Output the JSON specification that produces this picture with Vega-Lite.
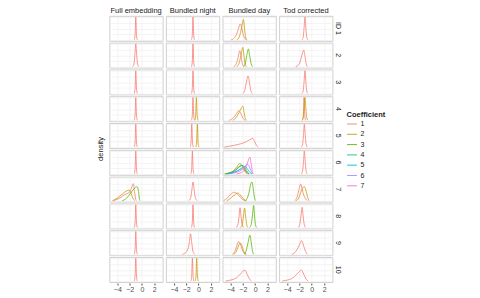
{
"$schema":"https://vega.github.io/schema/vega-lite/v6.json",
"padding":{"left":95.5,"top":6,"right":0,"bottom":0},
"background":"white",
"bounds":"flush",
"data":{"values":[
{"m":"Full embedding","id":1,"c":"1","x":-1.25,"y":0},{"m":"Full embedding","id":1,"c":"1","x":-1.12,"y":0.2},{"m":"Full embedding","id":1,"c":"1","x":-1.0,"y":1},{"m":"Full embedding","id":1,"c":"1","x":-0.88,"y":0.2},{"m":"Full embedding","id":1,"c":"1","x":-0.75,"y":0},
{"m":"Bundled night","id":1,"c":"1","x":-1.15,"y":0},{"m":"Bundled night","id":1,"c":"1","x":-1.02,"y":0.2},{"m":"Bundled night","id":1,"c":"1","x":-0.9,"y":1},{"m":"Bundled night","id":1,"c":"1","x":-0.78,"y":0.2},{"m":"Bundled night","id":1,"c":"1","x":-0.65,"y":0},
{"m":"Bundled day","id":1,"c":"1","x":-3.9,"y":0},{"m":"Bundled day","id":1,"c":"1","x":-3.4,"y":0.08},{"m":"Bundled day","id":1,"c":"1","x":-3.0,"y":0.25},{"m":"Bundled day","id":1,"c":"1","x":-2.7,"y":0.5},{"m":"Bundled day","id":1,"c":"1","x":-2.4,"y":0.7},{"m":"Bundled day","id":1,"c":"1","x":-2.15,"y":0.5},{"m":"Bundled day","id":1,"c":"1","x":-1.9,"y":0.2},{"m":"Bundled day","id":1,"c":"1","x":-1.6,"y":0.03},{"m":"Bundled day","id":1,"c":"1","x":-1.4,"y":0},
{"m":"Bundled day","id":1,"c":"2","x":-3.0,"y":0},{"m":"Bundled day","id":1,"c":"2","x":-2.6,"y":0.12},{"m":"Bundled day","id":1,"c":"2","x":-2.3,"y":0.4},{"m":"Bundled day","id":1,"c":"2","x":-2.05,"y":0.75},{"m":"Bundled day","id":1,"c":"2","x":-1.9,"y":0.9},{"m":"Bundled day","id":1,"c":"2","x":-1.75,"y":0.6},{"m":"Bundled day","id":1,"c":"2","x":-1.6,"y":0.2},{"m":"Bundled day","id":1,"c":"2","x":-1.45,"y":0.03},{"m":"Bundled day","id":1,"c":"2","x":-1.3,"y":0},
{"m":"Tod corrected","id":1,"c":"1","x":-1.6,"y":0},{"m":"Tod corrected","id":1,"c":"1","x":-1.4,"y":0.1},{"m":"Tod corrected","id":1,"c":"1","x":-1.25,"y":0.5},{"m":"Tod corrected","id":1,"c":"1","x":-1.1,"y":1},{"m":"Tod corrected","id":1,"c":"1","x":-0.95,"y":0.5},{"m":"Tod corrected","id":1,"c":"1","x":-0.8,"y":0.1},{"m":"Tod corrected","id":1,"c":"1","x":-0.6,"y":0},

{"m":"Full embedding","id":2,"c":"1","x":-1.5,"y":0},{"m":"Full embedding","id":2,"c":"1","x":-1.3,"y":0.1},{"m":"Full embedding","id":2,"c":"1","x":-1.15,"y":0.5},{"m":"Full embedding","id":2,"c":"1","x":-1.0,"y":1},{"m":"Full embedding","id":2,"c":"1","x":-0.85,"y":0.5},{"m":"Full embedding","id":2,"c":"1","x":-0.7,"y":0.1},{"m":"Full embedding","id":2,"c":"1","x":-0.5,"y":0},
{"m":"Bundled night","id":2,"c":"1","x":-1.15,"y":0},{"m":"Bundled night","id":2,"c":"1","x":-1.02,"y":0.2},{"m":"Bundled night","id":2,"c":"1","x":-0.9,"y":1},{"m":"Bundled night","id":2,"c":"1","x":-0.78,"y":0.2},{"m":"Bundled night","id":2,"c":"1","x":-0.65,"y":0},
{"m":"Bundled day","id":2,"c":"1","x":-3.5,"y":0},{"m":"Bundled day","id":2,"c":"1","x":-3.1,"y":0.1},{"m":"Bundled day","id":2,"c":"1","x":-2.8,"y":0.35},{"m":"Bundled day","id":2,"c":"1","x":-2.5,"y":0.7},{"m":"Bundled day","id":2,"c":"1","x":-2.3,"y":0.5},{"m":"Bundled day","id":2,"c":"1","x":-2.1,"y":0.15},{"m":"Bundled day","id":2,"c":"1","x":-1.8,"y":0},
{"m":"Bundled day","id":2,"c":"2","x":-3.0,"y":0},{"m":"Bundled day","id":2,"c":"2","x":-2.6,"y":0.15},{"m":"Bundled day","id":2,"c":"2","x":-2.3,"y":0.5},{"m":"Bundled day","id":2,"c":"2","x":-2.0,"y":0.85},{"m":"Bundled day","id":2,"c":"2","x":-1.8,"y":0.45},{"m":"Bundled day","id":2,"c":"2","x":-1.6,"y":0.1},{"m":"Bundled day","id":2,"c":"2","x":-1.4,"y":0},
{"m":"Bundled day","id":2,"c":"3","x":-1.9,"y":0},{"m":"Bundled day","id":2,"c":"3","x":-1.6,"y":0.15},{"m":"Bundled day","id":2,"c":"3","x":-1.35,"y":0.5},{"m":"Bundled day","id":2,"c":"3","x":-1.1,"y":0.78},{"m":"Bundled day","id":2,"c":"3","x":-0.9,"y":0.5},{"m":"Bundled day","id":2,"c":"3","x":-0.65,"y":0.12},{"m":"Bundled day","id":2,"c":"3","x":-0.4,"y":0},
{"m":"Tod corrected","id":2,"c":"1","x":-2.6,"y":0},{"m":"Tod corrected","id":2,"c":"1","x":-2.2,"y":0.06},{"m":"Tod corrected","id":2,"c":"1","x":-1.9,"y":0.2},{"m":"Tod corrected","id":2,"c":"1","x":-1.6,"y":0.5},{"m":"Tod corrected","id":2,"c":"1","x":-1.3,"y":0.73},{"m":"Tod corrected","id":2,"c":"1","x":-1.1,"y":0.45},{"m":"Tod corrected","id":2,"c":"1","x":-0.9,"y":0.12},{"m":"Tod corrected","id":2,"c":"1","x":-0.7,"y":0},

{"m":"Full embedding","id":3,"c":"1","x":-1.25,"y":0},{"m":"Full embedding","id":3,"c":"1","x":-1.12,"y":0.2},{"m":"Full embedding","id":3,"c":"1","x":-1.0,"y":1},{"m":"Full embedding","id":3,"c":"1","x":-0.88,"y":0.2},{"m":"Full embedding","id":3,"c":"1","x":-0.75,"y":0},
{"m":"Bundled night","id":3,"c":"1","x":-1.15,"y":0},{"m":"Bundled night","id":3,"c":"1","x":-1.02,"y":0.2},{"m":"Bundled night","id":3,"c":"1","x":-0.9,"y":1},{"m":"Bundled night","id":3,"c":"1","x":-0.78,"y":0.2},{"m":"Bundled night","id":3,"c":"1","x":-0.65,"y":0},
{"m":"Bundled day","id":3,"c":"1","x":-2.0,"y":0},{"m":"Bundled day","id":3,"c":"1","x":-1.7,"y":0.12},{"m":"Bundled day","id":3,"c":"1","x":-1.45,"y":0.45},{"m":"Bundled day","id":3,"c":"1","x":-1.15,"y":0.77},{"m":"Bundled day","id":3,"c":"1","x":-0.9,"y":0.45},{"m":"Bundled day","id":3,"c":"1","x":-0.7,"y":0.12},{"m":"Bundled day","id":3,"c":"1","x":-0.45,"y":0},
{"m":"Tod corrected","id":3,"c":"1","x":-1.6,"y":0},{"m":"Tod corrected","id":3,"c":"1","x":-1.4,"y":0.1},{"m":"Tod corrected","id":3,"c":"1","x":-1.25,"y":0.5},{"m":"Tod corrected","id":3,"c":"1","x":-1.1,"y":1},{"m":"Tod corrected","id":3,"c":"1","x":-0.95,"y":0.5},{"m":"Tod corrected","id":3,"c":"1","x":-0.8,"y":0.1},{"m":"Tod corrected","id":3,"c":"1","x":-0.6,"y":0},

{"m":"Full embedding","id":4,"c":"1","x":-1.25,"y":0},{"m":"Full embedding","id":4,"c":"1","x":-1.12,"y":0.2},{"m":"Full embedding","id":4,"c":"1","x":-1.0,"y":1},{"m":"Full embedding","id":4,"c":"1","x":-0.88,"y":0.2},{"m":"Full embedding","id":4,"c":"1","x":-0.75,"y":0},
{"m":"Bundled night","id":4,"c":"1","x":-1.15,"y":0},{"m":"Bundled night","id":4,"c":"1","x":-1.02,"y":0.2},{"m":"Bundled night","id":4,"c":"1","x":-0.9,"y":1},{"m":"Bundled night","id":4,"c":"1","x":-0.78,"y":0.2},{"m":"Bundled night","id":4,"c":"1","x":-0.65,"y":0},
{"m":"Bundled night","id":4,"c":"2","x":-0.6,"y":0},{"m":"Bundled night","id":4,"c":"2","x":-0.47,"y":0.2},{"m":"Bundled night","id":4,"c":"2","x":-0.35,"y":1},{"m":"Bundled night","id":4,"c":"2","x":-0.23,"y":0.2},{"m":"Bundled night","id":4,"c":"2","x":-0.1,"y":0},
{"m":"Bundled day","id":4,"c":"1","x":-4.2,"y":0},{"m":"Bundled day","id":4,"c":"1","x":-3.8,"y":0.05},{"m":"Bundled day","id":4,"c":"1","x":-3.4,"y":0.15},{"m":"Bundled day","id":4,"c":"1","x":-3.0,"y":0.3},{"m":"Bundled day","id":4,"c":"1","x":-2.7,"y":0.42},{"m":"Bundled day","id":4,"c":"1","x":-2.4,"y":0.35},{"m":"Bundled day","id":4,"c":"1","x":-2.1,"y":0.15},{"m":"Bundled day","id":4,"c":"1","x":-1.8,"y":0.03},{"m":"Bundled day","id":4,"c":"1","x":-1.6,"y":0},
{"m":"Bundled day","id":4,"c":"2","x":-3.6,"y":0},{"m":"Bundled day","id":4,"c":"2","x":-3.2,"y":0.08},{"m":"Bundled day","id":4,"c":"2","x":-2.8,"y":0.25},{"m":"Bundled day","id":4,"c":"2","x":-2.4,"y":0.45},{"m":"Bundled day","id":4,"c":"2","x":-2.0,"y":0.62},{"m":"Bundled day","id":4,"c":"2","x":-1.8,"y":0.35},{"m":"Bundled day","id":4,"c":"2","x":-1.6,"y":0.08},{"m":"Bundled day","id":4,"c":"2","x":-1.4,"y":0},
{"m":"Tod corrected","id":4,"c":"1","x":-1.5,"y":0},{"m":"Tod corrected","id":4,"c":"1","x":-1.37,"y":0.2},{"m":"Tod corrected","id":4,"c":"1","x":-1.25,"y":1},{"m":"Tod corrected","id":4,"c":"1","x":-1.13,"y":0.2},{"m":"Tod corrected","id":4,"c":"1","x":-1.0,"y":0},
{"m":"Tod corrected","id":4,"c":"2","x":-1.6,"y":0},{"m":"Tod corrected","id":4,"c":"2","x":-1.4,"y":0.1},{"m":"Tod corrected","id":4,"c":"2","x":-1.25,"y":0.5},{"m":"Tod corrected","id":4,"c":"2","x":-1.1,"y":1},{"m":"Tod corrected","id":4,"c":"2","x":-0.95,"y":0.5},{"m":"Tod corrected","id":4,"c":"2","x":-0.8,"y":0.1},{"m":"Tod corrected","id":4,"c":"2","x":-0.6,"y":0},

{"m":"Full embedding","id":5,"c":"1","x":-1.25,"y":0},{"m":"Full embedding","id":5,"c":"1","x":-1.12,"y":0.2},{"m":"Full embedding","id":5,"c":"1","x":-1.0,"y":1},{"m":"Full embedding","id":5,"c":"1","x":-0.88,"y":0.2},{"m":"Full embedding","id":5,"c":"1","x":-0.75,"y":0},
{"m":"Bundled night","id":5,"c":"1","x":-1.35,"y":0},{"m":"Bundled night","id":5,"c":"1","x":-1.22,"y":0.2},{"m":"Bundled night","id":5,"c":"1","x":-1.1,"y":1},{"m":"Bundled night","id":5,"c":"1","x":-0.98,"y":0.2},{"m":"Bundled night","id":5,"c":"1","x":-0.85,"y":0},
{"m":"Bundled night","id":5,"c":"2","x":-0.45,"y":0},{"m":"Bundled night","id":5,"c":"2","x":-0.32,"y":0.2},{"m":"Bundled night","id":5,"c":"2","x":-0.2,"y":1},{"m":"Bundled night","id":5,"c":"2","x":-0.08,"y":0.2},{"m":"Bundled night","id":5,"c":"2","x":0.05,"y":0},
{"m":"Bundled day","id":5,"c":"1","x":-5.0,"y":0},{"m":"Bundled day","id":5,"c":"1","x":-4.3,"y":0.03},{"m":"Bundled day","id":5,"c":"1","x":-3.5,"y":0.07},{"m":"Bundled day","id":5,"c":"1","x":-2.7,"y":0.12},{"m":"Bundled day","id":5,"c":"1","x":-2.0,"y":0.17},{"m":"Bundled day","id":5,"c":"1","x":-1.4,"y":0.24},{"m":"Bundled day","id":5,"c":"1","x":-0.9,"y":0.32},{"m":"Bundled day","id":5,"c":"1","x":-0.4,"y":0.38},{"m":"Bundled day","id":5,"c":"1","x":-0.1,"y":0.25},{"m":"Bundled day","id":5,"c":"1","x":0.2,"y":0.08},{"m":"Bundled day","id":5,"c":"1","x":0.5,"y":0},
{"m":"Tod corrected","id":5,"c":"1","x":-1.7,"y":0},{"m":"Tod corrected","id":5,"c":"1","x":-1.5,"y":0.1},{"m":"Tod corrected","id":5,"c":"1","x":-1.35,"y":0.5},{"m":"Tod corrected","id":5,"c":"1","x":-1.2,"y":1},{"m":"Tod corrected","id":5,"c":"1","x":-1.05,"y":0.5},{"m":"Tod corrected","id":5,"c":"1","x":-0.9,"y":0.1},{"m":"Tod corrected","id":5,"c":"1","x":-0.7,"y":0},

{"m":"Full embedding","id":6,"c":"1","x":-1.25,"y":0},{"m":"Full embedding","id":6,"c":"1","x":-1.12,"y":0.2},{"m":"Full embedding","id":6,"c":"1","x":-1.0,"y":1},{"m":"Full embedding","id":6,"c":"1","x":-0.88,"y":0.2},{"m":"Full embedding","id":6,"c":"1","x":-0.75,"y":0},
{"m":"Bundled night","id":6,"c":"1","x":-1.25,"y":0},{"m":"Bundled night","id":6,"c":"1","x":-1.12,"y":0.2},{"m":"Bundled night","id":6,"c":"1","x":-1.0,"y":1},{"m":"Bundled night","id":6,"c":"1","x":-0.88,"y":0.2},{"m":"Bundled night","id":6,"c":"1","x":-0.75,"y":0},
{"m":"Bundled day","id":6,"c":"1","x":-4.5,"y":0},{"m":"Bundled day","id":6,"c":"1","x":-3.8,"y":0.04},{"m":"Bundled day","id":6,"c":"1","x":-3.2,"y":0.1},{"m":"Bundled day","id":6,"c":"1","x":-2.6,"y":0.18},{"m":"Bundled day","id":6,"c":"1","x":-2.1,"y":0.22},{"m":"Bundled day","id":6,"c":"1","x":-1.7,"y":0.15},{"m":"Bundled day","id":6,"c":"1","x":-1.3,"y":0.05},{"m":"Bundled day","id":6,"c":"1","x":-1.0,"y":0},
{"m":"Bundled day","id":6,"c":"2","x":-5.0,"y":0},{"m":"Bundled day","id":6,"c":"2","x":-4.3,"y":0.04},{"m":"Bundled day","id":6,"c":"2","x":-3.6,"y":0.12},{"m":"Bundled day","id":6,"c":"2","x":-3.0,"y":0.3},{"m":"Bundled day","id":6,"c":"2","x":-2.5,"y":0.45},{"m":"Bundled day","id":6,"c":"2","x":-2.1,"y":0.35},{"m":"Bundled day","id":6,"c":"2","x":-1.7,"y":0.12},{"m":"Bundled day","id":6,"c":"2","x":-1.3,"y":0},
{"m":"Bundled day","id":6,"c":"3","x":-4.8,"y":0},{"m":"Bundled day","id":6,"c":"3","x":-4.0,"y":0.05},{"m":"Bundled day","id":6,"c":"3","x":-3.3,"y":0.15},{"m":"Bundled day","id":6,"c":"3","x":-2.7,"y":0.3},{"m":"Bundled day","id":6,"c":"3","x":-2.2,"y":0.38},{"m":"Bundled day","id":6,"c":"3","x":-1.8,"y":0.28},{"m":"Bundled day","id":6,"c":"3","x":-1.4,"y":0.08},{"m":"Bundled day","id":6,"c":"3","x":-1.0,"y":0},
{"m":"Bundled day","id":6,"c":"4","x":-4.8,"y":0},{"m":"Bundled day","id":6,"c":"4","x":-4.0,"y":0.05},{"m":"Bundled day","id":6,"c":"4","x":-3.2,"y":0.15},{"m":"Bundled day","id":6,"c":"4","x":-2.6,"y":0.3},{"m":"Bundled day","id":6,"c":"4","x":-2.0,"y":0.37},{"m":"Bundled day","id":6,"c":"4","x":-1.6,"y":0.25},{"m":"Bundled day","id":6,"c":"4","x":-1.2,"y":0.06},{"m":"Bundled day","id":6,"c":"4","x":-0.9,"y":0},
{"m":"Bundled day","id":6,"c":"5","x":-4.5,"y":0},{"m":"Bundled day","id":6,"c":"5","x":-3.6,"y":0.05},{"m":"Bundled day","id":6,"c":"5","x":-2.8,"y":0.13},{"m":"Bundled day","id":6,"c":"5","x":-2.2,"y":0.25},{"m":"Bundled day","id":6,"c":"5","x":-1.6,"y":0.32},{"m":"Bundled day","id":6,"c":"5","x":-1.2,"y":0.2},{"m":"Bundled day","id":6,"c":"5","x":-0.8,"y":0.05},{"m":"Bundled day","id":6,"c":"5","x":-0.5,"y":0},
{"m":"Bundled day","id":6,"c":"6","x":-4.0,"y":0},{"m":"Bundled day","id":6,"c":"6","x":-3.2,"y":0.05},{"m":"Bundled day","id":6,"c":"6","x":-2.5,"y":0.12},{"m":"Bundled day","id":6,"c":"6","x":-1.9,"y":0.25},{"m":"Bundled day","id":6,"c":"6","x":-1.3,"y":0.42},{"m":"Bundled day","id":6,"c":"6","x":-0.9,"y":0.3},{"m":"Bundled day","id":6,"c":"6","x":-0.6,"y":0.08},{"m":"Bundled day","id":6,"c":"6","x":-0.4,"y":0},
{"m":"Bundled day","id":6,"c":"7","x":-3.0,"y":0},{"m":"Bundled day","id":6,"c":"7","x":-2.3,"y":0.05},{"m":"Bundled day","id":6,"c":"7","x":-1.8,"y":0.15},{"m":"Bundled day","id":6,"c":"7","x":-1.4,"y":0.35},{"m":"Bundled day","id":6,"c":"7","x":-1.1,"y":0.6},{"m":"Bundled day","id":6,"c":"7","x":-0.85,"y":0.73},{"m":"Bundled day","id":6,"c":"7","x":-0.65,"y":0.45},{"m":"Bundled day","id":6,"c":"7","x":-0.45,"y":0.1},{"m":"Bundled day","id":6,"c":"7","x":-0.3,"y":0},
{"m":"Tod corrected","id":6,"c":"1","x":-1.7,"y":0},{"m":"Tod corrected","id":6,"c":"1","x":-1.5,"y":0.1},{"m":"Tod corrected","id":6,"c":"1","x":-1.35,"y":0.5},{"m":"Tod corrected","id":6,"c":"1","x":-1.2,"y":1},{"m":"Tod corrected","id":6,"c":"1","x":-1.05,"y":0.5},{"m":"Tod corrected","id":6,"c":"1","x":-0.9,"y":0.1},{"m":"Tod corrected","id":6,"c":"1","x":-0.7,"y":0},

{"m":"Full embedding","id":7,"c":"1","x":-4.6,"y":0},{"m":"Full embedding","id":7,"c":"1","x":-4.0,"y":0.06},{"m":"Full embedding","id":7,"c":"1","x":-3.4,"y":0.15},{"m":"Full embedding","id":7,"c":"1","x":-2.9,"y":0.25},{"m":"Full embedding","id":7,"c":"1","x":-2.5,"y":0.3},{"m":"Full embedding","id":7,"c":"1","x":-2.1,"y":0.35},{"m":"Full embedding","id":7,"c":"1","x":-1.7,"y":0.55},{"m":"Full embedding","id":7,"c":"1","x":-1.4,"y":0.75},{"m":"Full embedding","id":7,"c":"1","x":-1.2,"y":0.4},{"m":"Full embedding","id":7,"c":"1","x":-1.0,"y":0.05},{"m":"Full embedding","id":7,"c":"1","x":-0.9,"y":0},
{"m":"Full embedding","id":7,"c":"2","x":-4.8,"y":0},{"m":"Full embedding","id":7,"c":"2","x":-4.2,"y":0.08},{"m":"Full embedding","id":7,"c":"2","x":-3.6,"y":0.2},{"m":"Full embedding","id":7,"c":"2","x":-3.0,"y":0.33},{"m":"Full embedding","id":7,"c":"2","x":-2.5,"y":0.43},{"m":"Full embedding","id":7,"c":"2","x":-2.1,"y":0.46},{"m":"Full embedding","id":7,"c":"2","x":-1.8,"y":0.35},{"m":"Full embedding","id":7,"c":"2","x":-1.5,"y":0.12},{"m":"Full embedding","id":7,"c":"2","x":-1.2,"y":0},
{"m":"Full embedding","id":7,"c":"3","x":-3.2,"y":0},{"m":"Full embedding","id":7,"c":"3","x":-2.7,"y":0.06},{"m":"Full embedding","id":7,"c":"3","x":-2.2,"y":0.2},{"m":"Full embedding","id":7,"c":"3","x":-1.7,"y":0.38},{"m":"Full embedding","id":7,"c":"3","x":-1.2,"y":0.55},{"m":"Full embedding","id":7,"c":"3","x":-0.8,"y":0.62},{"m":"Full embedding","id":7,"c":"3","x":-0.55,"y":0.4},{"m":"Full embedding","id":7,"c":"3","x":-0.4,"y":0.05},{"m":"Full embedding","id":7,"c":"3","x":-0.3,"y":0},
{"m":"Bundled night","id":7,"c":"1","x":-1.6,"y":0},{"m":"Bundled night","id":7,"c":"1","x":-1.3,"y":0.1},{"m":"Bundled night","id":7,"c":"1","x":-1.1,"y":0.45},{"m":"Bundled night","id":7,"c":"1","x":-0.9,"y":0.82},{"m":"Bundled night","id":7,"c":"1","x":-0.7,"y":0.45},{"m":"Bundled night","id":7,"c":"1","x":-0.5,"y":0.1},{"m":"Bundled night","id":7,"c":"1","x":-0.2,"y":0},
{"m":"Bundled day","id":7,"c":"1","x":-5.1,"y":0},{"m":"Bundled day","id":7,"c":"1","x":-4.6,"y":0.1},{"m":"Bundled day","id":7,"c":"1","x":-4.0,"y":0.27},{"m":"Bundled day","id":7,"c":"1","x":-3.4,"y":0.37},{"m":"Bundled day","id":7,"c":"1","x":-2.9,"y":0.3},{"m":"Bundled day","id":7,"c":"1","x":-2.4,"y":0.15},{"m":"Bundled day","id":7,"c":"1","x":-2.0,"y":0.05},{"m":"Bundled day","id":7,"c":"1","x":-1.6,"y":0},
{"m":"Bundled day","id":7,"c":"2","x":-4.6,"y":0},{"m":"Bundled day","id":7,"c":"2","x":-4.1,"y":0.08},{"m":"Bundled day","id":7,"c":"2","x":-3.6,"y":0.2},{"m":"Bundled day","id":7,"c":"2","x":-3.1,"y":0.3},{"m":"Bundled day","id":7,"c":"2","x":-2.8,"y":0.34},{"m":"Bundled day","id":7,"c":"2","x":-2.4,"y":0.25},{"m":"Bundled day","id":7,"c":"2","x":-2.0,"y":0.1},{"m":"Bundled day","id":7,"c":"2","x":-1.6,"y":0.02},{"m":"Bundled day","id":7,"c":"2","x":-1.4,"y":0},
{"m":"Bundled day","id":7,"c":"3","x":-1.6,"y":0},{"m":"Bundled day","id":7,"c":"3","x":-1.3,"y":0.1},{"m":"Bundled day","id":7,"c":"3","x":-1.0,"y":0.35},{"m":"Bundled day","id":7,"c":"3","x":-0.75,"y":0.7},{"m":"Bundled day","id":7,"c":"3","x":-0.5,"y":0.82},{"m":"Bundled day","id":7,"c":"3","x":-0.3,"y":0.5},{"m":"Bundled day","id":7,"c":"3","x":-0.1,"y":0.12},{"m":"Bundled day","id":7,"c":"3","x":0.1,"y":0},
{"m":"Tod corrected","id":7,"c":"1","x":-2.7,"y":0},{"m":"Tod corrected","id":7,"c":"1","x":-2.4,"y":0.15},{"m":"Tod corrected","id":7,"c":"1","x":-2.1,"y":0.45},{"m":"Tod corrected","id":7,"c":"1","x":-1.8,"y":0.73},{"m":"Tod corrected","id":7,"c":"1","x":-1.55,"y":0.5},{"m":"Tod corrected","id":7,"c":"1","x":-1.3,"y":0.25},{"m":"Tod corrected","id":7,"c":"1","x":-1.0,"y":0.08},{"m":"Tod corrected","id":7,"c":"1","x":-0.7,"y":0},
{"m":"Tod corrected","id":7,"c":"2","x":-2.5,"y":0},{"m":"Tod corrected","id":7,"c":"2","x":-2.1,"y":0.12},{"m":"Tod corrected","id":7,"c":"2","x":-1.8,"y":0.35},{"m":"Tod corrected","id":7,"c":"2","x":-1.5,"y":0.55},{"m":"Tod corrected","id":7,"c":"2","x":-1.2,"y":0.62},{"m":"Tod corrected","id":7,"c":"2","x":-0.9,"y":0.4},{"m":"Tod corrected","id":7,"c":"2","x":-0.6,"y":0.1},{"m":"Tod corrected","id":7,"c":"2","x":-0.4,"y":0},

{"m":"Full embedding","id":8,"c":"1","x":-1.25,"y":0},{"m":"Full embedding","id":8,"c":"1","x":-1.12,"y":0.2},{"m":"Full embedding","id":8,"c":"1","x":-1.0,"y":1},{"m":"Full embedding","id":8,"c":"1","x":-0.88,"y":0.2},{"m":"Full embedding","id":8,"c":"1","x":-0.75,"y":0},
{"m":"Bundled night","id":8,"c":"1","x":-1.15,"y":0},{"m":"Bundled night","id":8,"c":"1","x":-1.02,"y":0.2},{"m":"Bundled night","id":8,"c":"1","x":-0.9,"y":1},{"m":"Bundled night","id":8,"c":"1","x":-0.78,"y":0.2},{"m":"Bundled night","id":8,"c":"1","x":-0.65,"y":0},
{"m":"Bundled day","id":8,"c":"1","x":-3.1,"y":0},{"m":"Bundled day","id":8,"c":"1","x":-2.8,"y":0.12},{"m":"Bundled day","id":8,"c":"1","x":-2.6,"y":0.5},{"m":"Bundled day","id":8,"c":"1","x":-2.45,"y":0.87},{"m":"Bundled day","id":8,"c":"1","x":-2.3,"y":0.5},{"m":"Bundled day","id":8,"c":"1","x":-2.1,"y":0.12},{"m":"Bundled day","id":8,"c":"1","x":-1.9,"y":0},
{"m":"Bundled day","id":8,"c":"2","x":-2.4,"y":0},{"m":"Bundled day","id":8,"c":"2","x":-2.1,"y":0.12},{"m":"Bundled day","id":8,"c":"2","x":-1.9,"y":0.5},{"m":"Bundled day","id":8,"c":"2","x":-1.7,"y":0.85},{"m":"Bundled day","id":8,"c":"2","x":-1.55,"y":0.5},{"m":"Bundled day","id":8,"c":"2","x":-1.35,"y":0.1},{"m":"Bundled day","id":8,"c":"2","x":-1.2,"y":0},
{"m":"Bundled day","id":8,"c":"3","x":-0.9,"y":0},{"m":"Bundled day","id":8,"c":"3","x":-0.65,"y":0.12},{"m":"Bundled day","id":8,"c":"3","x":-0.45,"y":0.5},{"m":"Bundled day","id":8,"c":"3","x":-0.25,"y":0.97},{"m":"Bundled day","id":8,"c":"3","x":-0.1,"y":0.5},{"m":"Bundled day","id":8,"c":"3","x":0.05,"y":0.12},{"m":"Bundled day","id":8,"c":"3","x":0.25,"y":0},
{"m":"Tod corrected","id":8,"c":"1","x":-2.2,"y":0},{"m":"Tod corrected","id":8,"c":"1","x":-1.95,"y":0.12},{"m":"Tod corrected","id":8,"c":"1","x":-1.75,"y":0.5},{"m":"Tod corrected","id":8,"c":"1","x":-1.55,"y":0.89},{"m":"Tod corrected","id":8,"c":"1","x":-1.4,"y":0.5},{"m":"Tod corrected","id":8,"c":"1","x":-1.2,"y":0.12},{"m":"Tod corrected","id":8,"c":"1","x":-1.0,"y":0},

{"m":"Full embedding","id":9,"c":"1","x":-1.25,"y":0},{"m":"Full embedding","id":9,"c":"1","x":-1.12,"y":0.2},{"m":"Full embedding","id":9,"c":"1","x":-1.0,"y":1},{"m":"Full embedding","id":9,"c":"1","x":-0.88,"y":0.2},{"m":"Full embedding","id":9,"c":"1","x":-0.75,"y":0},
{"m":"Bundled night","id":9,"c":"1","x":-2.6,"y":0},{"m":"Bundled night","id":9,"c":"1","x":-2.2,"y":0.05},{"m":"Bundled night","id":9,"c":"1","x":-1.8,"y":0.18},{"m":"Bundled night","id":9,"c":"1","x":-1.5,"y":0.5},{"m":"Bundled night","id":9,"c":"1","x":-1.3,"y":0.9},{"m":"Bundled night","id":9,"c":"1","x":-1.1,"y":0.5},{"m":"Bundled night","id":9,"c":"1","x":-0.9,"y":0.12},{"m":"Bundled night","id":9,"c":"1","x":-0.6,"y":0},
{"m":"Bundled day","id":9,"c":"1","x":-3.7,"y":0},{"m":"Bundled day","id":9,"c":"1","x":-3.3,"y":0.12},{"m":"Bundled day","id":9,"c":"1","x":-3.0,"y":0.35},{"m":"Bundled day","id":9,"c":"1","x":-2.7,"y":0.56},{"m":"Bundled day","id":9,"c":"1","x":-2.4,"y":0.45},{"m":"Bundled day","id":9,"c":"1","x":-2.1,"y":0.2},{"m":"Bundled day","id":9,"c":"1","x":-1.8,"y":0.05},{"m":"Bundled day","id":9,"c":"1","x":-1.5,"y":0},
{"m":"Bundled day","id":9,"c":"2","x":-3.5,"y":0},{"m":"Bundled day","id":9,"c":"2","x":-3.1,"y":0.1},{"m":"Bundled day","id":9,"c":"2","x":-2.8,"y":0.3},{"m":"Bundled day","id":9,"c":"2","x":-2.45,"y":0.5},{"m":"Bundled day","id":9,"c":"2","x":-2.2,"y":0.42},{"m":"Bundled day","id":9,"c":"2","x":-1.9,"y":0.18},{"m":"Bundled day","id":9,"c":"2","x":-1.6,"y":0.03},{"m":"Bundled day","id":9,"c":"2","x":-1.4,"y":0},
{"m":"Bundled day","id":9,"c":"3","x":-1.8,"y":0},{"m":"Bundled day","id":9,"c":"3","x":-1.5,"y":0.12},{"m":"Bundled day","id":9,"c":"3","x":-1.2,"y":0.45},{"m":"Bundled day","id":9,"c":"3","x":-0.85,"y":0.84},{"m":"Bundled day","id":9,"c":"3","x":-0.6,"y":0.45},{"m":"Bundled day","id":9,"c":"3","x":-0.4,"y":0.1},{"m":"Bundled day","id":9,"c":"3","x":-0.2,"y":0},
{"m":"Tod corrected","id":9,"c":"1","x":-3.2,"y":0},{"m":"Tod corrected","id":9,"c":"1","x":-2.8,"y":0.06},{"m":"Tod corrected","id":9,"c":"1","x":-2.4,"y":0.2},{"m":"Tod corrected","id":9,"c":"1","x":-2.0,"y":0.42},{"m":"Tod corrected","id":9,"c":"1","x":-1.65,"y":0.6},{"m":"Tod corrected","id":9,"c":"1","x":-1.35,"y":0.4},{"m":"Tod corrected","id":9,"c":"1","x":-1.0,"y":0.12},{"m":"Tod corrected","id":9,"c":"1","x":-0.7,"y":0},

{"m":"Full embedding","id":10,"c":"1","x":-1.25,"y":0},{"m":"Full embedding","id":10,"c":"1","x":-1.12,"y":0.2},{"m":"Full embedding","id":10,"c":"1","x":-1.0,"y":1},{"m":"Full embedding","id":10,"c":"1","x":-0.88,"y":0.2},{"m":"Full embedding","id":10,"c":"1","x":-0.75,"y":0},
{"m":"Bundled night","id":10,"c":"1","x":-1.25,"y":0},{"m":"Bundled night","id":10,"c":"1","x":-1.12,"y":0.2},{"m":"Bundled night","id":10,"c":"1","x":-1.0,"y":1},{"m":"Bundled night","id":10,"c":"1","x":-0.88,"y":0.2},{"m":"Bundled night","id":10,"c":"1","x":-0.75,"y":0},
{"m":"Bundled night","id":10,"c":"2","x":-0.55,"y":0},{"m":"Bundled night","id":10,"c":"2","x":-0.42,"y":0.2},{"m":"Bundled night","id":10,"c":"2","x":-0.3,"y":1},{"m":"Bundled night","id":10,"c":"2","x":-0.18,"y":0.2},{"m":"Bundled night","id":10,"c":"2","x":-0.05,"y":0},
{"m":"Bundled day","id":10,"c":"1","x":-4.8,"y":0},{"m":"Bundled day","id":10,"c":"1","x":-4.2,"y":0.03},{"m":"Bundled day","id":10,"c":"1","x":-3.6,"y":0.07},{"m":"Bundled day","id":10,"c":"1","x":-3.0,"y":0.15},{"m":"Bundled day","id":10,"c":"1","x":-2.5,"y":0.28},{"m":"Bundled day","id":10,"c":"1","x":-2.0,"y":0.42},{"m":"Bundled day","id":10,"c":"1","x":-1.65,"y":0.48},{"m":"Bundled day","id":10,"c":"1","x":-1.3,"y":0.3},{"m":"Bundled day","id":10,"c":"1","x":-0.9,"y":0.08},{"m":"Bundled day","id":10,"c":"1","x":-0.6,"y":0},
{"m":"Tod corrected","id":10,"c":"1","x":-4.8,"y":0},{"m":"Tod corrected","id":10,"c":"1","x":-4.2,"y":0.03},{"m":"Tod corrected","id":10,"c":"1","x":-3.6,"y":0.07},{"m":"Tod corrected","id":10,"c":"1","x":-3.0,"y":0.15},{"m":"Tod corrected","id":10,"c":"1","x":-2.5,"y":0.28},{"m":"Tod corrected","id":10,"c":"1","x":-2.0,"y":0.42},{"m":"Tod corrected","id":10,"c":"1","x":-1.65,"y":0.48},{"m":"Tod corrected","id":10,"c":"1","x":-1.3,"y":0.3},{"m":"Tod corrected","id":10,"c":"1","x":-0.9,"y":0.08},{"m":"Tod corrected","id":10,"c":"1","x":-0.6,"y":0}
]},
"facet":{
 "row":{"field":"id","type":"ordinal","title":"density",
  "header":{"labelOrient":"right","labelAngle":90,"labelAlign":"center","labelBaseline":"middle","labelPadding":-3,"labelFontSize":7,"labelColor":"#1a1a1a","labelExpr":"datum.value == 1 ? 'ID 1' : datum.value","titleOrient":"left","titleFontSize":7.5,"titleFontWeight":"normal","titleColor":"#1a1a1a","titlePadding":-4.5}},
 "column":{"field":"m","type":"nominal","sort":["Full embedding","Bundled night","Bundled day","Tod corrected"],"title":"Coefficient value",
  "header":{"labelOrient":"top","labelPadding":2,"labelFontSize":7.5,"labelColor":"#1a1a1a","titleOrient":"bottom","titleFontSize":7.5,"titleFontWeight":"normal","titleColor":"#1a1a1a","titlePadding":0}}
},
"spacing":{"row":1.8,"column":2.6},
"spec":{
 "width":53.3,"height":25,
 "mark":{"type":"line","interpolate":"monotone","strokeWidth":0.9,"opacity":0.85},
 "encoding":{
  "x":{"field":"x","type":"quantitative","scale":{"domain":[-5.26,3.38],"nice":false,"zero":false},
   "axis":{"values":[-4,-2,0,2],"title":null,"labelFontSize":7,"labelColor":"#4d4d4d","tickColor":"#4d4d4d","tickSize":2,"labelPadding":0,"domain":false,"grid":true}},
  "y":{"field":"y","type":"quantitative","scale":{"domain":[-0.05,1.05],"nice":false,"zero":false},
   "axis":{"title":null,"labels":false,"ticks":false,"domain":false,"grid":true,"minExtent":0,"maxExtent":0,"values":[0,0.25,0.5,0.75,1]}},
  "color":{"field":"c","type":"nominal","title":"Coefficient",
   "scale":{"domain":["1","2","3","4","5","6","7"],"range":["#F8766D","#C49A00","#53B400","#00C094","#00B6EB","#A58AFF","#FB61D7"]},
   "legend":{"orient":"none","legendX":237,"legendY":95,"symbolType":"stroke","symbolSize":100,"symbolStrokeWidth":1,"labelFontSize":7,"titleFontSize":7.5,"rowPadding":1.3,"titlePadding":0,"labelOffset":3}}
 }
},
"config":{
 "font":"Liberation Sans",
 "view":{"stroke":"#c4c4c4","strokeWidth":0.8},
 "axis":{"gridColor":"#ececec","gridWidth":0.6},
 "legend":{"titleColor":"#1a1a1a","labelColor":"#1a1a1a"}
}
}
